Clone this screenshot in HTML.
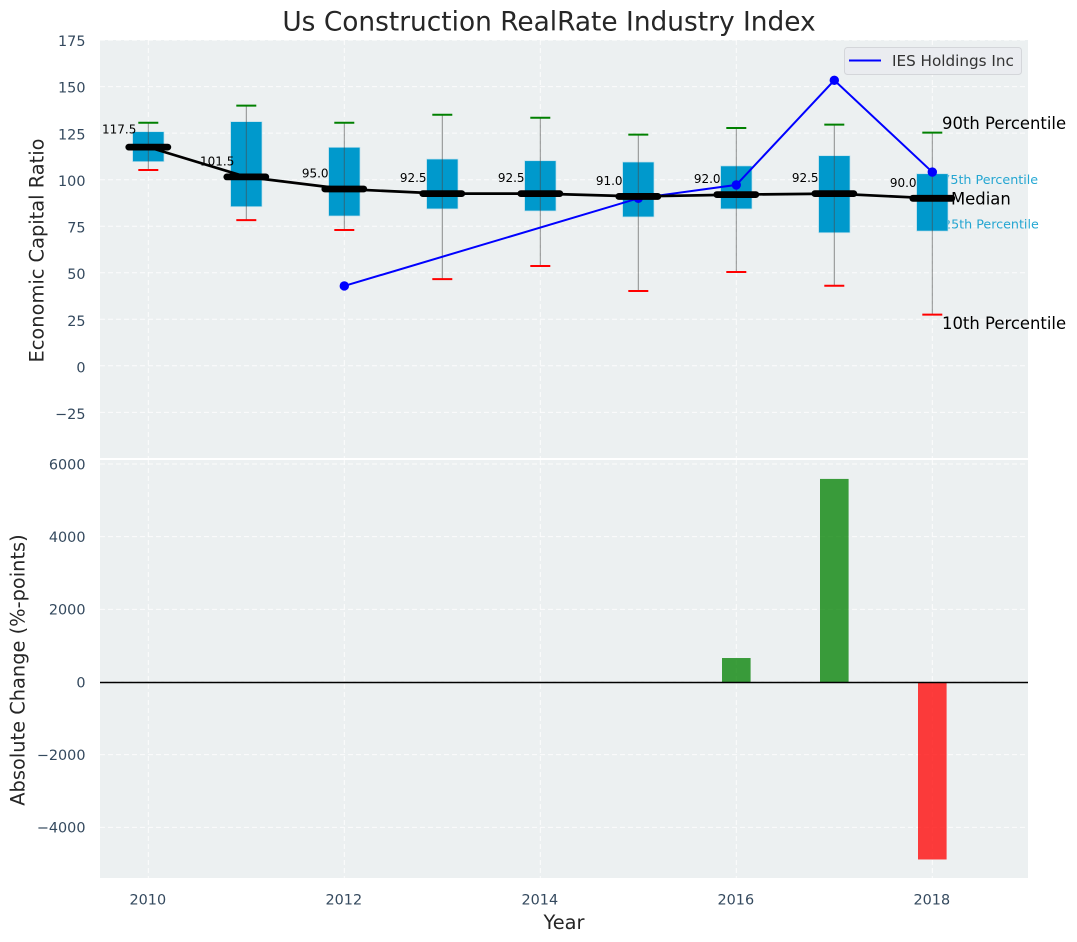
<!DOCTYPE html>
<html>
<head>
<meta charset="utf-8">
<title>Us Construction RealRate Industry Index</title>
<style>
html,body{margin:0;padding:0;background:#fff;}
svg{display:block;font-family:"DejaVu Sans","Liberation Sans",sans-serif;}
</style>
</head>
<body>
<svg id="chart" xmlns="http://www.w3.org/2000/svg" width="1077" height="942" viewBox="0 0 1077 942"></svg>
<script>
const years = [2010, 2011, 2012, 2013, 2014, 2015, 2016, 2017, 2018];
const p90 = [130.6, 139.8, 130.6, 134.9, 133.3, 124.2, 127.8, 129.6, 125.3];
const p75 = [125.8, 131.2, 117.4, 111.1, 110.2, 109.5, 107.4, 112.9, 103.2];
const medians = [117.5, 101.5, 95.0, 92.5, 92.5, 91.0, 92.0, 92.5, 90.0];
const p25 = [109.7, 85.5, 80.5, 84.3, 83.2, 80, 84.3, 71.5, 72.4];
const p10 = [105.2, 78.3, 73, 46.6, 53.6, 40.2, 50.4, 43, 27.5];
const companyYears = [2012, 2015, 2016, 2017, 2018];
const companyValues = [42.9, 90, 97.2, 153.4, 104.1];
const changeYears = [2016, 2017, 2018];
const changeValues = [660, 5590, -4885];
const xTicks = [2010, 2012, 2014, 2016, 2018];
const topTicks = [175, 150, 125, 100, 75, 50, 25, 0, -25];
const bottomTicks = [6000, 4000, 2000, 0, -2000, -4000];

const svg = document.getElementById('chart');
const NS = 'http://www.w3.org/2000/svg';
const plotLeft = 100, plotRight = 1028;
const topPlotTop = 40, topPlotBottom = 458, bottomPlotTop = 460, bottomPlotBottom = 878;

function xScale(v) { return 148.3 + (v - 2010) * 98; }
function yTop(v) { return 365.8 - v * 1.861; }
function yBottom(v) { return 682 - v * 0.03633; }
function tickText(v) { return String(v).replace('-', '\u2212'); }

function el(tag, attrs, name, parent) {
  const node = document.createElementNS(NS, tag);
  for (const k in attrs) node.setAttribute(k, attrs[k]);
  
  
  (parent || svg).appendChild(node);
  return node;
}
function txt(content, attrs, name, parent) {
  const node = el('text', attrs, name, parent);
  node.textContent = content;
  return node;
}
const gridStyle = {stroke: '#ffffff', 'stroke-width': 1, 'stroke-dasharray': '5,3', opacity: 0.85};

el('rect', {x: plotLeft, y: topPlotTop, width: plotRight - plotLeft, height: topPlotBottom - topPlotTop, fill: '#ecf0f1'}, 'top-plot-background');
el('rect', {x: plotLeft, y: bottomPlotTop, width: plotRight - plotLeft, height: bottomPlotBottom - bottomPlotTop, fill: '#ecf0f1'}, 'bottom-plot-background');

xTicks.forEach(function (t) {
  el('line', Object.assign({x1: xScale(t), x2: xScale(t), y1: topPlotTop, y2: topPlotBottom}, gridStyle), 'top-x-gridline');
  el('line', Object.assign({x1: xScale(t), x2: xScale(t), y1: bottomPlotTop, y2: bottomPlotBottom}, gridStyle), 'bottom-x-gridline');
  txt(t, {x: xScale(t) - 0.5, y: 904.5, 'text-anchor': 'middle', 'font-size': 14.4, fill: '#34495e'}, 'x-tick-label');
});
topTicks.forEach(function (t) {
  el('line', Object.assign({x1: plotLeft, x2: plotRight, y1: yTop(t), y2: yTop(t)}, gridStyle), 'top-y-gridline');
  txt(tickText(t), {x: 85.5, y: yTop(t) + 5.9 + (175 - t) * 0.004, 'text-anchor': 'end', 'font-size': 14.4, fill: '#34495e'}, 'top-y-tick-label');
});
bottomTicks.forEach(function (t) {
  el('line', Object.assign({x1: plotLeft, x2: plotRight, y1: yBottom(t), y2: yBottom(t)}, gridStyle), 'bottom-y-gridline');
  txt(tickText(t), {x: 85.5, y: yBottom(t) + 5.4, 'text-anchor': 'end', 'font-size': 14.4, fill: '#34495e'}, 'bottom-y-tick-label');
});

const lastIndex = years.length - 1;
const lastX = xScale(years[lastIndex]);
txt('75th Percentile', {x: lastX + 10, y: yTop(p75[lastIndex]) + 10.3, 'font-size': 12.7, fill: '#0099cc', opacity: 0.85}, 'annotation-75th-percentile');
txt('25th Percentile', {x: lastX + 10.7, y: yTop(p25[lastIndex]) - 2.7, 'font-size': 12.7, fill: '#0099cc', opacity: 0.85}, 'annotation-25th-percentile');

years.forEach(function (y, i) {
  const x = xScale(y);
  el('rect', {x: x - 15.7, y: yTop(p75[i]), width: 31.4, height: yTop(p25[i]) - yTop(p75[i]), fill: '#0099cc', stroke: '#bfe0ec', 'stroke-width': 0.7}, 'box-' + y);
  el('line', {x1: x, x2: x, y1: yTop(p90[i]), y2: yTop(p10[i]), stroke: '#4a4a4a', 'stroke-width': 1, opacity: 0.6}, 'whisker-' + y);
  el('line', {x1: x - 10, x2: x + 10, y1: yTop(p90[i]), y2: yTop(p90[i]), stroke: '#008000', 'stroke-width': 2}, 'cap-90th-' + y);
  el('line', {x1: x - 10, x2: x + 10, y1: yTop(p10[i]), y2: yTop(p10[i]), stroke: '#ff0000', 'stroke-width': 2}, 'cap-10th-' + y);
});

const companyPoints = companyYears.map(function (y, i) { return xScale(y) + ',' + yTop(companyValues[i]); }).join(' ');
el('polyline', {points: companyPoints, fill: 'none', stroke: '#0000ff', 'stroke-width': 2}, 'ies-holdings-line');
companyYears.forEach(function (y, i) {
  el('circle', {cx: xScale(y), cy: yTop(companyValues[i]), r: 4.7, fill: '#0000ff'}, 'ies-holdings-point-' + y);
});

const medianPoints = years.map(function (y, i) { return xScale(y) + ',' + yTop(medians[i]); }).join(' ');
el('polyline', {points: medianPoints, fill: 'none', stroke: '#000000', 'stroke-width': 2.7}, 'median-line');
years.forEach(function (y, i) {
  const x = xScale(y);
  el('line', {x1: x - 19.5, x2: x + 19.5, y1: yTop(medians[i]), y2: yTop(medians[i]), stroke: '#000000', 'stroke-width': 6.8, 'stroke-linecap': 'round'}, 'median-bar-' + y);
  txt(medians[i].toFixed(1), {x: x - 29.1, y: yTop(medians[i]) - (i === 0 ? 13.8 : 11.5), 'text-anchor': 'middle', 'font-size': 12, fill: '#000000'}, 'median-value-' + y);
});

txt('90th Percentile', {x: lastX + 9.7, y: yTop(p90[lastIndex]) - 3.4, 'font-size': 16.45, fill: '#000000'}, 'annotation-90th-percentile');
txt('10th Percentile', {x: lastX + 9.7, y: yTop(p10[lastIndex]) + 14.6, 'font-size': 16.45, fill: '#000000'}, 'annotation-10th-percentile');
txt('Median', {x: lastX + 18.7, y: yTop(medians[lastIndex]) + 6, 'font-size': 16.45, fill: '#000000'}, 'annotation-median');

const legend = el('g', {}, 'legend');
el('rect', {x: 844.5, y: 47.5, width: 177, height: 27, rx: 3, fill: '#eaecf0', stroke: '#d4d6da', 'stroke-width': 1}, 'legend-box', legend);
el('line', {x1: 849, x2: 881, y1: 60.5, y2: 60.5, stroke: '#0000ff', 'stroke-width': 2}, 'legend-line', legend);
txt('IES Holdings Inc', {x: 892, y: 66, 'font-size': 15.2, fill: '#333333'}, 'legend-label', legend);

changeYears.forEach(function (y, i) {
  const a = yBottom(changeValues[i]);
  const b = yBottom(0);
  el('rect', {x: xScale(y) - 14.3, y: Math.min(a, b), width: 28.6, height: Math.abs(b - a), fill: changeValues[i] >= 0 ? '#008000' : '#ff0000', opacity: 0.76}, 'change-bar-' + y);
});
el('line', {x1: plotLeft, x2: plotRight, y1: yBottom(0) + 0.5, y2: yBottom(0) + 0.5, stroke: '#000000', 'stroke-width': 1.4}, 'zero-line');

txt('Us Construction RealRate Industry Index', {x: 549, y: 30.5, 'text-anchor': 'middle', 'font-size': 26.4, fill: '#262626'}, 'chart-title');
txt('Economic Capital Ratio', {transform: 'translate(43.5,250.5) rotate(-90)', 'text-anchor': 'middle', 'font-size': 19.4, fill: '#262626'}, 'top-y-axis-title');
txt('Absolute Change (%-points)', {transform: 'translate(24.5,670) rotate(-90)', 'text-anchor': 'middle', 'font-size': 19.4, fill: '#262626'}, 'bottom-y-axis-title');
txt('Year', {x: 564, y: 929, 'text-anchor': 'middle', 'font-size': 19.4, fill: '#262626'}, 'x-axis-title');
</script>
</body>
</html>
